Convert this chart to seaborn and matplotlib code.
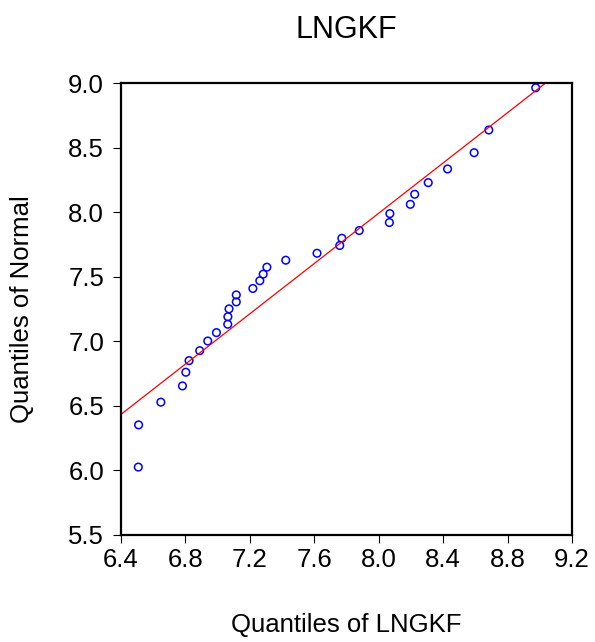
import pandas as pd
import seaborn as sns
import matplotlib.pyplot as plt

# empirical quantiles of LNGKF (x) vs normal quantiles (y)
lngkf_q = [6.509, 6.511, 6.649, 6.783, 6.804, 6.824, 6.890, 6.940, 6.994, 7.064,
           7.065, 7.072, 7.117, 7.117, 7.220, 7.263, 7.284, 7.307, 7.424, 7.618,
           7.759, 7.772, 7.880, 8.067, 8.070, 8.197, 8.224, 8.308, 8.428, 8.593,
           8.684, 8.975]
normal_q = [6.026, 6.353, 6.529, 6.655, 6.761, 6.851, 6.928, 7.003, 7.068, 7.133,
            7.191, 7.252, 7.306, 7.360, 7.410, 7.470, 7.521, 7.575, 7.629, 7.683,
            7.743, 7.799, 7.859, 7.921, 7.990, 8.062, 8.140, 8.230, 8.336, 8.462,
            8.638, 8.965]

# reference line through two points
line_x = [6.4, 9.034]
line_y = [6.433, 9.0]

x_ticks = [6.4, 6.8, 7.2, 7.6, 8.0, 8.4, 8.8, 9.2]
y_ticks = [5.5, 6.0, 6.5, 7.0, 7.5, 8.0, 8.5, 9.0]

df = pd.DataFrame({"lngkf": lngkf_q, "normal": normal_q})

sns.set_theme(style="ticks", rc={"text.color": "black", "axes.labelcolor": "black",
                                 "xtick.color": "black", "ytick.color": "black"})
plt.rcParams["font.family"] = ["Liberation Sans", "DejaVu Sans"]

fig = plt.figure(figsize=(5.95, 6.42), dpi=100)
ax = fig.add_axes([0.2029, 0.1667, 0.7584, 0.7036])

ax.axline((line_x[0], line_y[0]), (line_x[1], line_y[1]), color="red", linewidth=0.9)
sns.scatterplot(
    data=df, x="lngkf", y="normal", ax=ax,
    marker="o", s=30, facecolor="none", edgecolor="#0000ff", linewidth=1.1,
)

ax.set_xlim(6.4, 9.2)
ax.set_ylim(5.5, 9.0)
ax.set_xticks(x_ticks)
ax.set_xticklabels([f"{t:.1f}" for t in x_ticks])
ax.set_yticks(y_ticks)
ax.set_yticklabels([f"{t:.1f}" for t in y_ticks])
ax.tick_params(axis="both", labelsize=18.5, length=6, width=0.8,
               color="black", labelcolor="black")
ax.tick_params(axis="x", pad=3.5)
ax.tick_params(axis="y", pad=6)

for s in ax.spines.values():
    s.set_linewidth(1.6)
    s.set_color("black")

ax.set_xlabel("Quantiles of LNGKF", fontsize=18.5, color="black")
ax.set_ylabel("Quantiles of Normal", fontsize=18.5, color="black")
ax.xaxis.set_label_coords(0.5, -0.199)
ax.xaxis.label.set_va("center")
ax.yaxis.set_label_coords(-0.2187, 0.5)
ax.yaxis.label.set_va("center")
ax.set_title("LNGKF", fontsize=22, y=1.118, pad=0, va="center", color="black")

plt.savefig("out.png", dpi=100)
